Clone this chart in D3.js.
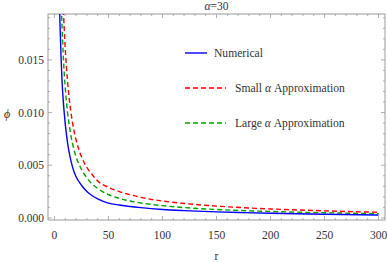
<!DOCTYPE html>
<html><head><meta charset="utf-8">
<script src="https://cdn.jsdelivr.net/npm/d3@7"></script>
<style>body{margin:0;background:#fff;} svg{display:block;}</style>
</head><body>
<svg id="c" width="387" height="262"></svg>
<script>
const rNum = [4,5,6,7,8,9,10,12,14,16,18,20,25,30,35,40,50,60,70,80,100,120,150,175,200,250,300];
const phiNum = [0.0235,0.0188,0.0155,0.013,0.0113,0.0100,0.0089,0.0072,0.0060,0.0051,0.0044,0.0039,0.0031,0.0025,0.0021,0.0018,0.0014,0.00122,0.00108,0.00097,0.0008,0.00069,0.00057,0.0005,0.00044,0.00035,0.00028];
const rSmall = [8,9,10,12,14,16,18,20,25,30,35,40,50,60,70,80,100,120,150,175,200,250,300];
const phiSmall = [0.0205,0.018,0.016,0.0131,0.011,0.0095,0.0083,0.0074,0.0058,0.0048,0.0041,0.0035,0.0029,0.0025,0.0022,0.00195,0.0016,0.00137,0.00112,0.00097,0.00085,0.00067,0.00053];
const rLarge = [6,7,8,9,10,12,14,16,18,20,25,30,35,40,50,60,70,80,100,120,150,175,200,250,300];
const phiLarge = [0.0215,0.0182,0.0157,0.0138,0.0123,0.0101,0.0086,0.0074,0.0065,0.0058,0.0046,0.0038,0.0032,0.0028,0.0022,0.00186,0.0016,0.00142,0.00116,0.00098,0.0008,0.00069,0.00061,0.00049,0.0004];
const xTicks = [0,50,100,150,200,250,300];
const yTicks = [0.000,0.005,0.010,0.015];
const legendLabels = [["Numerical"],["Small ","\u03b1"," Approximation"],["Large ","\u03b1"," Approximation"]];
const title = ["\u03b1","=30"];

const svg = d3.select("#c");
const L=48, R=385, T=14, B=220;
const x = d3.scaleLinear().domain([-6,306]).range([L,R]);
const y = d3.scaleLinear().domain([-0.0002,0.01936]).range([B,T]);
const font = "'Liberation Serif', serif";
const frameCol = "#9a9a9a", textCol = "#333";

svg.append("clipPath").attr("id","clip").append("rect").attr("x",L).attr("y",T).attr("width",R-L).attr("height",B-T);

svg.append("rect").attr("x",L).attr("y",T).attr("width",R-L).attr("height",B-T)
  .attr("fill","none").attr("stroke",frameCol).attr("stroke-width",1);

const xMinor = d3.range(0,301,10).filter(v=>v%50!==0);
const yMinor = d3.range(0,0.0195,0.001).filter(v=>Math.round(v*1000)%5!==0);
const g = svg.append("g").attr("stroke",frameCol).attr("stroke-width",0.8);
xTicks.forEach(v=>{
  g.append("line").attr("x1",x(v)).attr("x2",x(v)).attr("y1",B).attr("y2",B-4);
  g.append("line").attr("x1",x(v)).attr("x2",x(v)).attr("y1",T).attr("y2",T+4);
});
xMinor.forEach(v=>{
  g.append("line").attr("x1",x(v)).attr("x2",x(v)).attr("y1",B).attr("y2",B-2);
  g.append("line").attr("x1",x(v)).attr("x2",x(v)).attr("y1",T).attr("y2",T+2);
});
yTicks.forEach(v=>{
  g.append("line").attr("x1",L).attr("x2",L+4).attr("y1",y(v)).attr("y2",y(v));
  g.append("line").attr("x1",R).attr("x2",R-4).attr("y1",y(v)).attr("y2",y(v));
});
yMinor.forEach(v=>{
  g.append("line").attr("x1",L).attr("x2",L+2).attr("y1",y(v)).attr("y2",y(v));
  g.append("line").attr("x1",R).attr("x2",R-2).attr("y1",y(v)).attr("y2",y(v));
});

svg.selectAll(".xt").data(xTicks).enter().append("text")
  .attr("x",d=>x(d)).attr("y",B+19).attr("text-anchor","middle")
  .attr("font-family",font).attr("font-size",11.5).attr("fill",textCol).text(d=>d);
svg.selectAll(".yt").data(yTicks).enter().append("text")
  .attr("x",L-4).attr("y",d=>y(d)+4).attr("text-anchor","end")
  .attr("font-family",font).attr("font-size",11.5).attr("fill",textCol).text(d=>d3.format(".3f")(d));

svg.append("text").attr("x",(L+R)/2).attr("y",260).attr("text-anchor","middle")
  .attr("font-family",font).attr("font-size",11.5).attr("fill",textCol).text("r");
svg.append("text").attr("x",7).attr("y",118).attr("text-anchor","middle")
  .attr("font-family",font).attr("font-style","italic").attr("font-size",12).attr("fill",textCol).text("\u03d5");
const tt = svg.append("text").attr("x",(L+R)/2).attr("y",10).attr("text-anchor","middle")
  .attr("font-family",font).attr("font-size",11.5).attr("fill",textCol);
tt.append("tspan").attr("font-style","italic").text(title[0]);
tt.append("tspan").text(title[1]);

const line = d3.line().x(d=>x(d[0])).y(d=>y(d[1])).curve(d3.curveMonotoneX);
const cg = svg.append("g").attr("clip-path","url(#clip)").attr("fill","none");
const series = [
  {r:rNum, p:phiNum, c:"#0000ff", dash:null},
  {r:rSmall, p:phiSmall, c:"#ff0000", dash:"5,3"},
  {r:rLarge, p:phiLarge, c:"#00a000", dash:"5,3"}
];
series.slice().reverse().forEach(s=>{
  cg.append("path").datum(s.r.map((r,i)=>[r,s.p[i]])).attr("d",line)
    .attr("stroke",s.c).attr("stroke-width",1.4).attr("stroke-dasharray",s.dash);
});

const lg = [{x1:185,x2:207,y:53,tx:214},{x1:185,x2:226,y:88,tx:235},{x1:185,x2:226,y:123,tx:235}];
lg.forEach((l,i)=>{
  svg.append("line").attr("x1",l.x1).attr("x2",l.x2).attr("y1",l.y).attr("y2",l.y)
    .attr("stroke",series[i].c).attr("stroke-width",1.4).attr("stroke-dasharray",series[i].dash);
  const t = svg.append("text").attr("x",l.tx).attr("y",l.y+3.5).attr("font-family",font).attr("font-size",11.6)
    .attr("fill",textCol).attr("xml:space","preserve").style("white-space","pre");
  legendLabels[i].forEach(p=>{
    t.append("tspan").attr("font-style",p==="\u03b1"?"italic":null).text(p);
  });
});
</script>
</body></html>
